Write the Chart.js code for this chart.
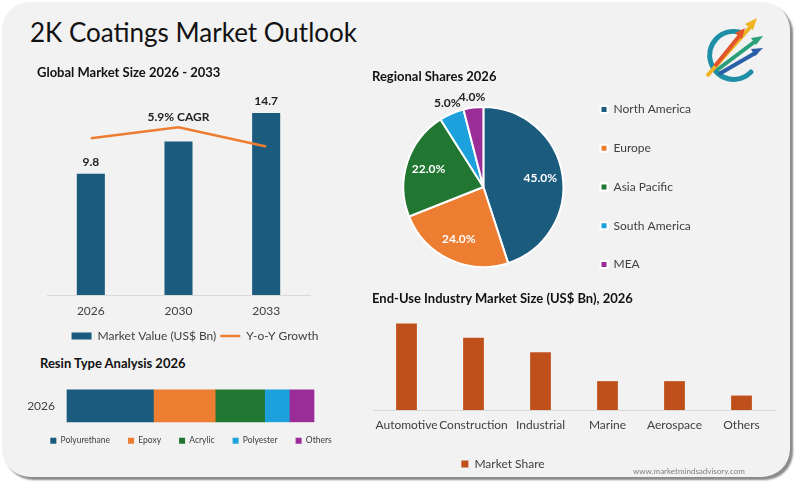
<!DOCTYPE html>
<html>
<head>
<meta charset="utf-8">
<script src="https://cdn.jsdelivr.net/npm/chart.js@4.4.1/dist/chart.umd.min.js"></script>
<style>
  html, body { margin: 0; padding: 0; background: #ffffff; overflow: hidden; }
  body { width: 800px; height: 488px; position: relative; font-family: Lato, "Open Sans", sans-serif; color: #000; }
  .card { position: absolute; left: 2px; top: 2px; width: 788px; height: 475px; border-radius: 28px;
          background: #f2f2f2; box-shadow: 3px 3px 2px #8a8a8a; }
  .txt { position: absolute; white-space: nowrap; line-height: 16px; z-index: 5; }
  .h1 { font-size: 26px; line-height: 30px; color: #111; }
  .h2 { font-size: 13px; font-weight: bold; color: #111; }
  .wm { font-size: 8px; color: #7f7f7f; }
  canvas { position: absolute; }
  #logo { position: absolute; left: 695px; top: 10px; z-index: 4; }
</style>
</head>
<body>
<div class="card"></div>
<div class="txt h1" style="left:30px; top:17px;">2K Coatings Market Outlook</div>
<div class="txt h2" style="left:37px; top:64px;">Global Market Size 2026 - 2033</div>
<div class="txt h2" style="left:372px; top:68px;">Regional Shares 2026</div>
<div class="txt h2" style="left:40px; top:355px;">Resin Type Analysis 2026</div>
<div class="txt h2" style="left:372px; top:290px;">End-Use Industry Market Size (US$ Bn), 2026</div>
<div class="txt wm" style="left:633px; top:463px;">www.marketmindsadvisory.com</div>

<svg id="logo" width="80" height="80" viewBox="0 0 80 80">
  <path d="M44 22 A24 24 0 1 0 56 62" fill="none" stroke="#1f8fa6" stroke-width="5" stroke-linecap="round"/>
  <path d="M12 66 L58 14" stroke="#f0b323" stroke-width="4"/>
  <polygon points="62,8 50,14 58,20" fill="#f0b323"/>
  <path d="M20 56 L46 24" stroke="#e2552b" stroke-width="4"/>
  <polygon points="50,18 40,23 47,29" fill="#e2552b"/>
  <path d="M22 60 L62 30" stroke="#2aa07a" stroke-width="4"/>
  <polygon points="68,26 56,28 61,35" fill="#2aa07a"/>
  <path d="M24 64 L62 42" stroke="#2a5fa8" stroke-width="4"/>
  <polygon points="68,38 56,39 60,46" fill="#2a5fa8"/>
</svg>

<canvas id="marketChart"></canvas>
<canvas id="regionChart"></canvas>
<canvas id="resinChart"></canvas>
<canvas id="endUseChart"></canvas>

<script>
(function () {
  // ---- data ----
  const years = ["2026", "2030", "2033"];
  const marketValue = [9.8, 12.4, 14.7];
  const yoyGrowth = [5.7, 6.1, 5.4];
  const labelledYears = ["2026", "2033"];
  const cagrText = "5.9% CAGR";

  const regions = ["North America", "Europe", "Asia Pacific", "South America", "MEA"];
  const regionShare = [45, 24, 22, 5, 4];

  const resinTypes = ["Polyurethane", "Epoxy", "Acrylic", "Polyester", "Others"];
  const resinShare = [35, 25, 20, 10, 10];

  const industries = ["Automotive", "Construction", "Industrial", "Marine", "Aerospace", "Others"];
  const industrySize = [3.0, 2.5, 2.0, 1.0, 1.0, 0.5];

  const BLUE = "#1b5b7e";
  const ORANGE = "#ed7d31";
  const GREEN = "#217632";
  const SKY = "#1ca1dc";
  const PURPLE = "#9a2d98";
  const RUST = "#c0501b";
  const TEXT = "#404040";
  const FONT = "Lato, 'Open Sans', sans-serif";

  Chart.defaults.font.family = FONT;
  Chart.defaults.color = TEXT;
  Chart.defaults.animation = false;
  Chart.defaults.plugins.tooltip.enabled = false;

  function place(id, left, top, width, height) {
    const c = document.getElementById(id);
    c.style.left = left + "px";
    c.style.top = top + "px";
    c.style.width = width + "px";
    c.style.height = height + "px";
    c.width = width;
    c.height = height;
    return c.getContext("2d");
  }

  // values over some bars + CAGR note over the line
  const marketLabels = {
    id: "marketLabels",
    afterDatasetsDraw(chart) {
      const ctx = chart.ctx;
      const bars = chart.getDatasetMeta(0).data;
      const pts = chart.getDatasetMeta(1).data;
      ctx.save();
      ctx.font = "bold 12px " + FONT;
      ctx.fillStyle = "#222";
      ctx.textAlign = "center";
      ctx.textBaseline = "bottom";
      bars.forEach((bar, i) => {
        if (labelledYears.includes(years[i])) {
          ctx.fillText(marketValue[i].toFixed(1), bar.x, bar.y - 6);
        }
      });
      const mid = pts[1];
      ctx.fillText(cagrText, mid.x, mid.y - 4);
      ctx.restore();
    },
  };

  new Chart(place("marketChart", 47, 85, 296, 267), {
    data: {
      labels: years,
      datasets: [
        {
          type: "bar",
          label: "Market Value (US$ Bn)",
          data: marketValue,
          backgroundColor: BLUE,
          barPercentage: 0.64,
          categoryPercentage: 0.5,
          yAxisID: "y",
          pointStyle: "rect",
          order: 2,
        },
        {
          type: "line",
          label: "Y-o-Y Growth",
          data: yoyGrowth,
          borderColor: ORANGE,
          backgroundColor: ORANGE,
          borderWidth: 2.5,
          pointRadius: 0,
          tension: 0,
          yAxisID: "y2",
          pointStyle: "line",
          order: 1,
        },
      ],
    },
    options: {
      responsive: false,
      layout: { padding: { top: 12, left: 0, right: 0, bottom: 0 } },
      plugins: {
        legend: {
          position: "bottom",
          labels: {
            usePointStyle: true,
            pointStyleWidth: 20,
            boxWidth: 20,
            boxHeight: 7,
            padding: 4,
            color: TEXT,
            font: { size: 12 },
            sort: (a, b) => a.datasetIndex - b.datasetIndex,
          },
        },
      },
      scales: {
        x: {
          grid: { display: false, drawTicks: false },
          border: { color: "#d9d9d9" },
          ticks: { padding: 9, font: { size: 12 }, color: TEXT },
          afterFit(scale) { scale.height = 31; },
        },
        y: {
          min: 0, max: 16,
          display: false,
        },
        y2: {
          min: 0, max: 7.2,
          position: "right",
          grid: { display: false, drawTicks: false },
          border: { display: false },
          ticks: { display: false },
          afterFit(scale) { scale.width = 33; },
        },
      },
    },
    plugins: [marketLabels],
  });

  // percentages on slices
  const pieLabels = {
    id: "pieLabels",
    afterDatasetsDraw(chart) {
      const ctx = chart.ctx;
      const arcs = chart.getDatasetMeta(0).data;
      ctx.save();
      ctx.font = "bold 12px " + FONT;
      ctx.textAlign = "center";
      ctx.textBaseline = "middle";
      arcs.forEach((arc, i) => {
        const mid = (arc.startAngle + arc.endAngle) / 2;
        const inside = regionShare[i] >= 10;
        const r = inside ? arc.outerRadius * 0.72 : arc.outerRadius + 11;
        ctx.fillStyle = inside ? "#ffffff" : "#222";
        ctx.fillText(regionShare[i].toFixed(1) + "%", arc.x + Math.cos(mid) * r, arc.y + Math.sin(mid) * r);
      });
      ctx.restore();
    },
  };

  new Chart(place("regionChart", 393, 72, 308, 230), {
    type: "pie",
    data: {
      labels: regions,
      datasets: [
        {
          data: regionShare,
          backgroundColor: [BLUE, ORANGE, GREEN, SKY, PURPLE],
          borderColor: "#ffffff",
          borderWidth: 2,
          radius: 80,
        },
      ],
    },
    options: {
      responsive: false,
      plugins: {
        legend: {
          position: "right",
          labels: {
            boxWidth: 7,
            boxHeight: 7,
            padding: 26.75,
            color: TEXT,
            font: { size: 12 },
          },
        },
      },
    },
    plugins: [pieLabels],
  });

  const resinColors = [BLUE, ORANGE, GREEN, SKY, PURPLE];
  new Chart(place("resinChart", 0, 374, 382, 75), {
    type: "bar",
    data: {
      labels: ["2026"],
      datasets: resinTypes.map((name, i) => ({
        label: name,
        data: [resinShare[i]],
        backgroundColor: resinColors[i],
        barThickness: 32,
        clip: false,
      })),
    },
    options: {
      responsive: false,
      indexAxis: "y",
      layout: { padding: { top: 14 } },
      plugins: {
        legend: {
          position: "bottom",
          labels: {
            boxWidth: 6,
            boxHeight: 6,
            padding: 18,
            color: TEXT,
            font: { size: 8.5 },
          },
        },
      },
      scales: {
        x: { stacked: true, min: 0, max: 100, display: false },
        y: {
          stacked: true,
          grid: { display: false, drawTicks: false },
          border: { color: "#d9d9d9" },
          ticks: { padding: 12, font: { size: 12 }, color: TEXT },
          afterFit(scale) { scale.width = 67; },
        },
        yR: {
          type: "category",
          position: "right",
          grid: { display: false, drawTicks: false },
          border: { display: false },
          ticks: { display: false },
          afterFit(scale) { scale.width = 68; },
        },
      },
    },
  });

  new Chart(place("endUseChart", 231, 300, 546, 180), {
    type: "bar",
    data: {
      labels: industries,
      datasets: [
        {
          label: "Market Share",
          data: industrySize,
          backgroundColor: RUST,
          barPercentage: 0.62,
          categoryPercentage: 0.5,
        },
      ],
    },
    options: {
      responsive: false,
      layout: { padding: { top: 9, right: 2 } },
      plugins: {
        legend: {
          position: "bottom",
          labels: {
            boxWidth: 7,
            boxHeight: 7,
            padding: 8,
            color: TEXT,
            font: { size: 12 },
          },
        },
      },
      scales: {
        x: {
          grid: { display: false, drawTicks: false },
          border: { color: "#d9d9d9" },
          ticks: { padding: 8, font: { size: 12 }, color: TEXT, maxRotation: 0, minRotation: 0, autoSkip: false },
          afterFit(scale) { scale.height = 40; },
        },
        y: {
          min: 0, max: 3.5,
          grid: { display: false, drawTicks: false },
          border: { display: false },
          ticks: { display: false },
          afterFit(scale) { scale.width = 142; },
        },
      },
    },
  });
})();
</script>
</body>
</html>
